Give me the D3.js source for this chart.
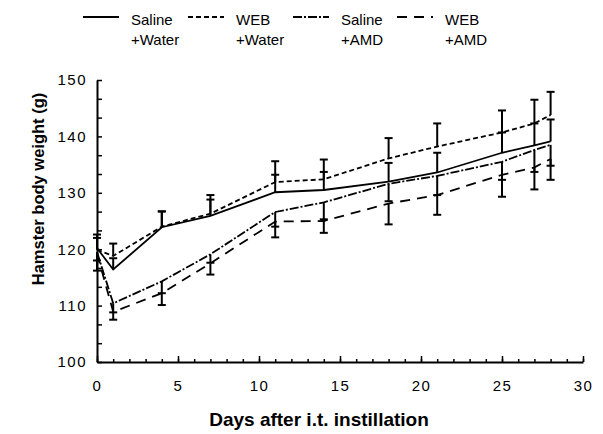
<!DOCTYPE html>
<html><head><meta charset="utf-8">
<script src="https://cdn.jsdelivr.net/npm/d3@7"></script>
<style>body{margin:0;background:#fff}</style>
</head><body><svg id="c" width="603" height="434"></svg>
<script>
// ---- data ----
const days = [0, 1, 4, 7, 11, 14, 18, 21, 25, 27, 28];
const salineWater   = [120.2, 116.4, 123.9, 125.9, 130.1, 130.5, 132.0, 133.6, 137.1, 138.4, 139.1];
const salineWaterSE = [1.8, 2.0, 2.8, 2.9, 3.1, 3.2, 3.3, 3.5, 3.6, 3.9, 3.9];
const webWater      = [119.9, 118.8, 124.0, 126.3, 131.9, 132.4, 136.1, 138.2, 140.7, 142.3, 143.8];
const webWaterSE    = [2.7, 2.2, 2.7, 3.3, 3.7, 3.5, 3.6, 4.1, 3.9, 4.2, 4.1];
const salineAMD     = [119.5, 110.4, 114.3, 119.1, 126.6, 128.3, 131.6, 133.0, 135.5, 137.6, 138.5];
const salineAMDSE   = [1.5, 1.6, 2.1, 1.5, 2.6, 3.0, 3.1, 3.4, 3.2, 3.9, 3.7];
const webAMD        = [119.2, 108.9, 112.2, 117.5, 124.9, 125.0, 128.1, 129.6, 133.2, 134.5, 136.0];
const webAMDSE      = [3.0, 1.4, 2.1, 2.0, 2.8, 2.1, 3.7, 3.5, 3.9, 3.9, 3.7];
const seriesLabels = [["Saline", "+Water"], ["WEB", "+Water"], ["Saline", "+AMD"], ["WEB", "+AMD"]];
const errorSide = [1, 1, -1, -1]; // error bars drawn above (1) or below (-1) the mean
const xTickValues = [0, 5, 10, 15, 20, 25, 30];
const yTickValues = [100, 110, 120, 130, 140, 150];
const xTitle = "Days after i.t. instillation";
const yTitle = "Hamster body weight (g)";

// ---- styles ----
const dashes = [null, "5,3", "9,2,2,2", "10,7"];
const svg = d3.select("#c");
const x = d3.scaleLinear().domain([0, 30]).range([97, 583]);
const y = d3.scaleLinear().domain([100, 150]).range([362, 80]);
const font = "'Liberation Sans', Arial, Helvetica, sans-serif";

const series = [
  {v: salineWater, e: salineWaterSE},
  {v: webWater, e: webWaterSE},
  {v: salineAMD, e: salineAMDSE},
  {v: webAMD, e: webAMDSE}
];

// minor x ticks
svg.append("g").attr("transform", "translate(0,362)")
  .call(d3.axisBottom(x).tickValues(d3.range(0, 31)).tickSize(-3).tickSizeOuter(0).tickFormat(""))
  .call(g => g.select(".domain").attr("stroke-width", 2))
  .call(g => g.selectAll(".tick line").attr("stroke-width", 1.5));
// major x ticks + labels
svg.append("g").attr("transform", "translate(0,362)")
  .call(d3.axisBottom(x).tickValues(xTickValues).tickSize(-6).tickSizeOuter(0).tickPadding(18))
  .call(g => g.select(".domain").remove())
  .call(g => g.selectAll(".tick line").attr("stroke-width", 1.5))
  .call(g => g.selectAll("text").attr("font-family", font).attr("font-size", 15)
      .attr("letter-spacing", "1.5px").attr("fill", "#000"));
// y minor ticks (every 10/3)
svg.append("g").attr("transform", "translate(97,0)")
  .call(d3.axisLeft(y).tickValues(d3.range(0, 16).map(i => 100 + i * 10 / 3)).tickSize(-5).tickSizeOuter(0).tickFormat(""))
  .call(g => g.select(".domain").attr("stroke-width", 2))
  .call(g => g.selectAll(".tick line").attr("stroke-width", 1.5));
svg.append("g").attr("transform", "translate(97,0)")
  .call(d3.axisLeft(y).tickValues(yTickValues).tickSize(0).tickPadding(10))
  .call(g => g.select(".domain").remove())
  .call(g => g.selectAll("text").attr("font-family", font).attr("font-size", 15)
      .attr("letter-spacing", "1.5px").attr("fill", "#000"));

// lines
const line = d3.line().x((d, i) => x(days[i])).y(d => y(d));
series.forEach((s, k) => {
  svg.append("path").datum(s.v).attr("d", line)
    .attr("fill", "none").attr("stroke", "#000").attr("stroke-width", 1.8)
    .attr("stroke-dasharray", dashes[k]);
  // error bars
  const g = svg.append("g").attr("stroke", "#000").attr("stroke-width", 2);
  s.v.forEach((v, i) => {
    const xe = x(days[i]);
    const y0 = y(v), y1 = y(v + errorSide[k] * s.e[i]);
    g.append("line").attr("x1", xe).attr("x2", xe).attr("y1", y0).attr("y2", y1);
    g.append("line").attr("x1", xe - 4).attr("x2", xe + 4).attr("y1", y1).attr("y2", y1);
  });
});

// legend
const legX = [83, 188, 293, 397];
seriesLabels.forEach((lab, k) => {
  svg.append("line").attr("x1", legX[k]).attr("x2", legX[k] + 36).attr("y1", 17).attr("y2", 17)
    .attr("stroke", "#000").attr("stroke-width", 1.8).attr("stroke-dasharray", dashes[k]);
  const t = svg.append("text").attr("font-family", font).attr("font-size", 15).attr("fill", "#000");
  t.append("tspan").attr("x", legX[k] + 48).attr("y", 25).text(lab[0]);
  t.append("tspan").attr("x", legX[k] + 48).attr("y", 45).text(lab[1]);
});

// titles
svg.append("text").attr("x", 319).attr("y", 426).attr("text-anchor", "middle")
  .attr("font-family", font).attr("font-weight", "bold").attr("font-size", 19).text(xTitle);
svg.append("text").attr("transform", "translate(44,189) rotate(-90)").attr("text-anchor", "middle")
  .attr("font-family", font).attr("font-weight", "bold").attr("font-size", 16.5).text(yTitle);
</script></body></html>
